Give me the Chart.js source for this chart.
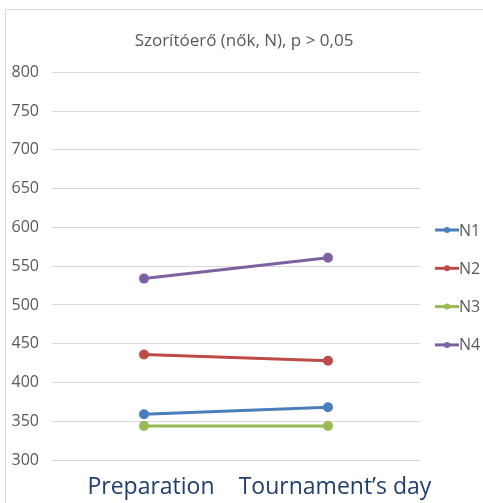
<!DOCTYPE html>
<html>
<head>
<meta charset="utf-8">
<script src="https://cdn.jsdelivr.net/npm/chart.js@4/dist/chart.umd.min.js"></script>
<style>
  html, body { margin: 0; padding: 0; background: #ffffff; }
  #wrap { width: 483px; height: 503px; position: relative; }
</style>
</head>
<body>
<div id="wrap"><canvas id="c" width="483" height="503"></canvas></div>
<script>
// Grip strength of female players, measured in newtons
const categories = ['Preparation', 'Tournament\u2019s day'];
const seriesNames = ['N1', 'N2', 'N3', 'N4'];
const n1 = [359, 368];
const n2 = [436, 428];
const n3 = [344, 344];
const n4 = [534, 561];
const yTicks = [300, 350, 400, 450, 500, 550, 600, 650, 700, 750, 800];
const colors = ['#4a7ebb', '#be4b48', '#98b954', '#7d60a0'];
const seriesValues = [n1, n2, n3, n4];

const FONT = "'Open Sans', 'Noto Sans', sans-serif";

// Light frame around the chart
const framePlugin = {
  id: 'frame',
  beforeDraw(chart) {
    const ctx = chart.ctx;
    ctx.save();
    ctx.fillStyle = '#ffffff';
    ctx.fillRect(0, 0, chart.width, chart.height);
    ctx.strokeStyle = '#d9d9d9';
    ctx.lineWidth = 1;
    ctx.beginPath();
    ctx.moveTo(5.5, chart.height);
    ctx.lineTo(5.5, 9.5);
    ctx.lineTo(chart.width, 9.5);
    ctx.stroke();
    ctx.restore();
  }
};

// Legend on the right: a short line with a marker, then the series name
const lineLegendPlugin = {
  id: 'lineLegend',
  afterDraw(chart) {
    const ctx = chart.ctx;
    const x0 = chart.chartArea.right + 15;
    ctx.save();
    chart.data.datasets.forEach((ds, i) => {
      const y = 230 + i * 38.3;
      ctx.strokeStyle = ds.borderColor;
      ctx.lineWidth = 3;
      ctx.beginPath();
      ctx.moveTo(x0, y);
      ctx.lineTo(x0 + 24, y);
      ctx.stroke();
      ctx.fillStyle = ds.borderColor;
      ctx.beginPath();
      ctx.arc(x0 + 12, y, 3, 0, Math.PI * 2);
      ctx.fill();
      ctx.fillStyle = '#595959';
      ctx.font = '16px ' + FONT;
      ctx.textBaseline = 'middle';
      ctx.textAlign = 'left';
      ctx.fillText(ds.label, x0 + 24, y + 1);
    });
    ctx.restore();
  }
};

new Chart(document.getElementById('c'), {
  type: 'line',
  data: {
    labels: categories,
    datasets: seriesNames.map((name, i) => ({
      label: name,
      data: seriesValues[i],
      borderColor: colors[i],
      backgroundColor: colors[i],
      borderWidth: 3,
      pointRadius: 3.5,
      pointHoverRadius: 3.5,
      tension: 0
    }))
  },
  options: {
    responsive: false,
    animation: false,
    events: [],
    layout: { padding: { left: 5, right: 0, top: 0, bottom: 0 } },
    plugins: {
      legend: { display: false },
      tooltip: { enabled: false },
      title: {
        display: true,
        text: 'Szorítóerő (nők, N), p > 0,05',
        color: '#595959',
        font: { family: FONT, size: 17, weight: 'normal' },
        padding: { top: 31, bottom: 21 }
      }
    },
    scales: {
      x: {
        offset: true,
        grid: { display: false, drawTicks: false },
        border: { display: false },
        ticks: {
          color: '#1f3f6e',
          font: { family: FONT, size: 23 },
          padding: 14,
          labelOffset: 7,
          maxRotation: 0,
          autoSkip: false
        },
        afterFit(scale) { scale.height = 43; }
      },
      y: {
        min: yTicks[0],
        max: yTicks[yTicks.length - 1],
        afterBuildTicks(scale) { scale.ticks = yTicks.map(v => ({ value: v })); },
        grid: { color: '#d9d9d9', lineWidth: 1, drawTicks: false },
        border: { display: false },
        ticks: {
          color: '#595959',
          font: { family: FONT, size: 16 },
          padding: 13
        },
        afterFit(scale) { scale.width = 47; }
      },
      // empty right-hand scale that keeps room for the legend
      legendSpace: {
        type: 'linear',
        position: 'right',
        grid: { display: false, drawTicks: false },
        border: { display: false },
        ticks: { display: false },
        afterFit(scale) { scale.width = 63; }
      }
    }
  },
  plugins: [framePlugin, lineLegendPlugin]
});
</script>
</body>
</html>
